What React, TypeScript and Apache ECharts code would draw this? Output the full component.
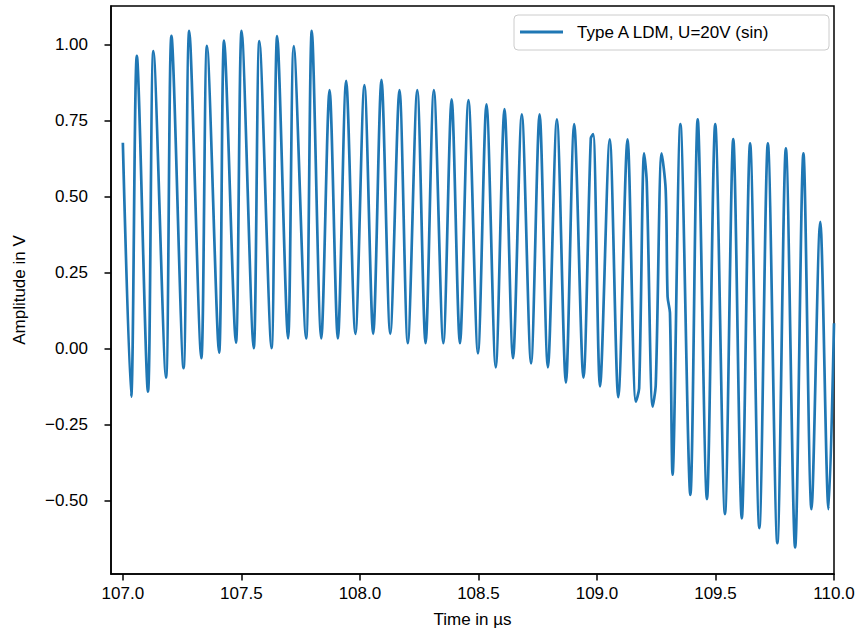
import React, { useEffect, useRef } from "react";
import * as echarts from "echarts";

// Time in µs (extrema and shoulders)
const times: number[] = [
  107.0, 107.035, 107.059, 107.106, 107.129, 107.182, 107.205, 107.256, 107.28, 107.331,
  107.355, 107.406, 107.427, 107.477, 107.501, 107.552, 107.576, 107.627, 107.651, 107.697,
  107.721, 107.773, 107.797, 107.837, 107.872, 107.907, 107.942, 107.981, 108.019, 108.056,
  108.091, 108.128, 108.167, 108.202, 108.242, 108.277, 108.312, 108.352, 108.387, 108.422,
  108.458, 108.498, 108.534, 108.573, 108.61, 108.646, 108.683, 108.722, 108.758, 108.793,
  108.831, 108.869, 108.904, 108.943, 108.974, 108.984, 109.013, 109.054, 109.09, 109.129,
  109.164, 109.178, 109.199, 109.21, 109.235, 109.248, 109.273, 109.29, 109.298, 109.308,
  109.319, 109.352, 109.394, 109.425, 109.464, 109.499, 109.54, 109.575, 109.611, 109.646,
  109.685, 109.721, 109.761, 109.797, 109.836, 109.871, 109.905, 109.942, 109.977, 110.0,
];

// Amplitude in V
const amplitudes: number[] = [
  0.677, -0.157, 0.962, -0.141, 0.978, -0.095, 1.028, -0.064, 1.044, -0.031,
  0.995, -0.013, 1.012, 0.02, 1.044, 0.002, 1.011, 0.002, 1.027, 0.034,
  0.994, 0.034, 1.044, 0.034, 0.85, 0.034, 0.88, 0.049, 0.866, 0.049,
  0.883, 0.049, 0.85, 0.018, 0.85, 0.018, 0.85, 0.018, 0.819, 0.018,
  0.817, -0.015, 0.803, -0.061, 0.787, -0.031, 0.77, -0.048, 0.77, -0.061,
  0.754, -0.111, 0.738, -0.095, 0.691, 0.705, -0.124, 0.688, -0.159, 0.688,
  -0.174, -0.13, 0.642, 0.549, -0.19, -0.119, 0.642, 0.522, 0.171, 0.118,
  -0.414, 0.738, -0.48, 0.754, -0.494, 0.738, -0.543, 0.689, -0.557, 0.675,
  -0.589, 0.675, -0.639, 0.658, -0.653, 0.642, -0.527, 0.417, -0.527, 0.084,
];

const xTicks: number[] = [107.0, 107.5, 108.0, 108.5, 109.0, 109.5, 110.0];
const yTicks: number[] = [-0.5, -0.25, 0, 0.25, 0.5, 0.75, 1.0];

const seriesName = "Type A LDM, U=20V (sin)";
const FONT = "Liberation Sans";

export default function App() {
  const ref = useRef<HTMLDivElement>(null);

  useEffect(() => {
    if (!ref.current) return;
    const chart = echarts.init(ref.current, undefined, { renderer: "svg" });
    const data = times.map((t, i) => [t, amplitudes[i]]);
    chart.setOption({
      animation: false,
      backgroundColor: "#ffffff",
      textStyle: { fontFamily: FONT },
      grid: {
        left: 111,
        right: 24,
        top: 6,
        bottom: 61,
        show: true,
        borderColor: "#000000",
        borderWidth: 1.5,
        backgroundColor: "transparent",
      },
      graphic: [
        {
          type: "rect",
          shape: { x: 514, y: 15, width: 315, height: 35, r: 4 },
          style: { fill: "rgba(255,255,255,0.8)", stroke: "#cccccc", lineWidth: 1 },
          z: 10,
        },
      ],
      legend: {
        show: true,
        left: 520,
        top: 22,
        padding: 0,
        icon: "rect",
        itemWidth: 43,
        itemHeight: 3,
        z: 20,
        data: [seriesName],
        textStyle: {
          fontFamily: FONT,
          fontSize: 17,
          color: "#000000",
          padding: [0, 0, 0, 9],
          lineHeight: 20,
        },
      },
      xAxis: {
        type: "value",
        min: 106.95,
        max: 110.0,
        name: "Time in µs",
        nameLocation: "middle",
        nameGap: 37,
        nameTextStyle: { fontFamily: FONT, fontSize: 17, color: "#000000" },
        axisLine: { show: true, onZero: false, lineStyle: { color: "#000000", width: 1.5 } },
        axisTick: {
          show: true,
          inside: false,
          length: 6.5,
          lineStyle: { color: "#000000", width: 1.5 },
          customValues: xTicks,
        },
        axisLabel: {
          show: true,
          margin: 11,
          fontFamily: FONT,
          fontSize: 17,
          color: "#000000",
          customValues: xTicks,
          formatter: (v: number) => v.toFixed(1),
        },
        splitLine: { show: false },
      },
      yAxis: {
        type: "value",
        min: -0.74,
        max: 1.126,
        name: "Amplitude in V",
        nameLocation: "middle",
        nameRotate: 90,
        nameGap: 83,
        nameTextStyle: { fontFamily: FONT, fontSize: 17, color: "#000000" },
        axisLine: { show: true, onZero: false, lineStyle: { color: "#000000", width: 1.5 } },
        axisTick: {
          show: true,
          inside: false,
          length: 6.5,
          lineStyle: { color: "#000000", width: 1.5 },
          customValues: yTicks,
        },
        axisLabel: {
          show: true,
          margin: 23,
          fontFamily: FONT,
          fontSize: 17,
          color: "#000000",
          customValues: yTicks,
          formatter: (v: number) => v.toFixed(2).replace("-", "\u2212"),
        },
        splitLine: { show: false },
      },
      series: [
        {
          name: seriesName,
          type: "line",
          data,
          showSymbol: false,
          symbol: "none",
          smooth: 0.3,
          color: "#1f77b4",
          lineStyle: { color: "#1f77b4", width: 2.7 },
          clip: true,
        },
      ],
    });
    return () => {
      chart.dispose();
    };
  }, []);

  return (
    <div
      ref={ref}
      style={{ position: "fixed", left: 0, top: 0, width: "858px", height: "635px" }}
    />
  );
}
